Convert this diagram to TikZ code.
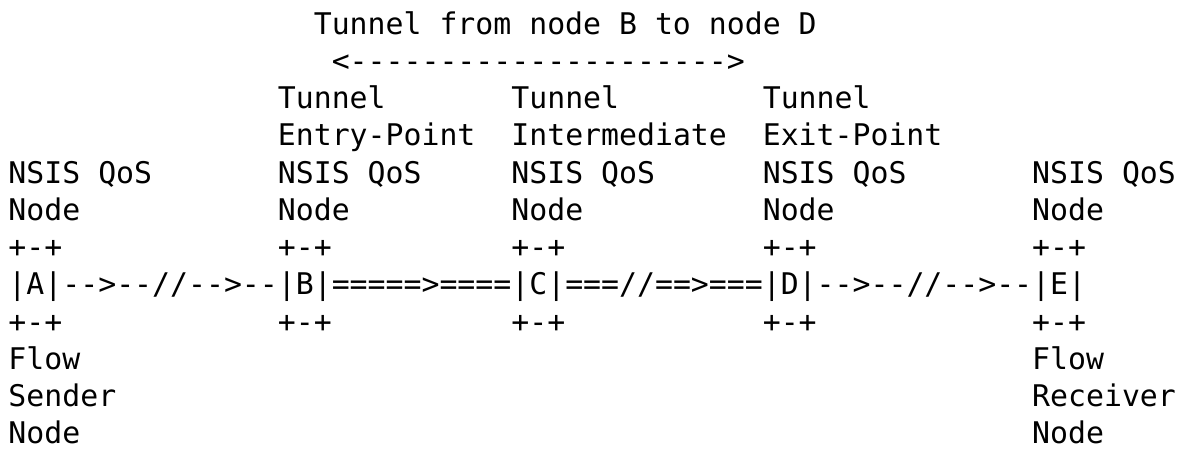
\documentclass[tikz,border=0pt]{standalone}
\usepackage{fontspec}
\setmonofont{DejaVu Sans Mono}
\begin{document}
\begin{tikzpicture}[
  txt/.style={anchor=base west, inner sep=0pt, outer sep=0pt,
              font=\ttfamily\fontsize{29.83}{37.25}\selectfont}
]
\useasboundingbox[fill=white] (0,0) rectangle (1188pt,-451pt);
% character grid: one unit = one column / one text row
\begin{scope}[shift={(8.5pt,-34pt)}, x=17.96pt, y=-37.25pt]
  % tunnel span
  \node[txt] (title) at (17,0) {Tunnel from node B to node D};
  \node[txt] (span)  at (18,1) {<--------------------->};
  % role labels
  \node[txt] (tB1) at (15,2) {Tunnel};
  \node[txt] (tC1) at (28,2) {Tunnel};
  \node[txt] (tD1) at (42,2) {Tunnel};
  \node[txt] (tB2) at (15,3) {Entry-Point};
  \node[txt] (tC2) at (28,3) {Intermediate};
  \node[txt] (tD2) at (42,3) {Exit-Point};
  % node labels
  \foreach \n/\c in {A/0,B/15,C/28,D/42,E/57}{
    \node[txt] (q\n) at (\c,4) {NSIS QoS};
    \node[txt] (n\n) at (\c,5) {Node};
    \node[txt] (top\n) at (\c,6) {+-+};
    \node[txt] (bot\n) at (\c,8) {+-+};
  }
  % path row
  \node[txt] (bA) at (0,7)  {|A|};
  \node[txt] (lAB) at (3,7) {-->--//-->--};
  \node[txt] (bB) at (15,7) {|B|};
  \node[txt] (lBC) at (18,7) {=====>====};
  \node[txt] (bC) at (28,7) {|C|};
  \node[txt] (lCD) at (31,7) {===//==>===};
  \node[txt] (bD) at (42,7) {|D|};
  \node[txt] (lDE) at (45,7) {-->--//-->--};
  \node[txt] (bE) at (57,7) {|E|};
  % end points
  \node[txt] (sA1) at (0,9)  {Flow};
  \node[txt] (sA2) at (0,10) {Sender};
  \node[txt] (sA3) at (0,11) {Node};
  \node[txt] (rE1) at (57,9)  {Flow};
  \node[txt] (rE2) at (57,10) {Receiver};
  \node[txt] (rE3) at (57,11) {Node};
\end{scope}
\end{tikzpicture}
\end{document}
